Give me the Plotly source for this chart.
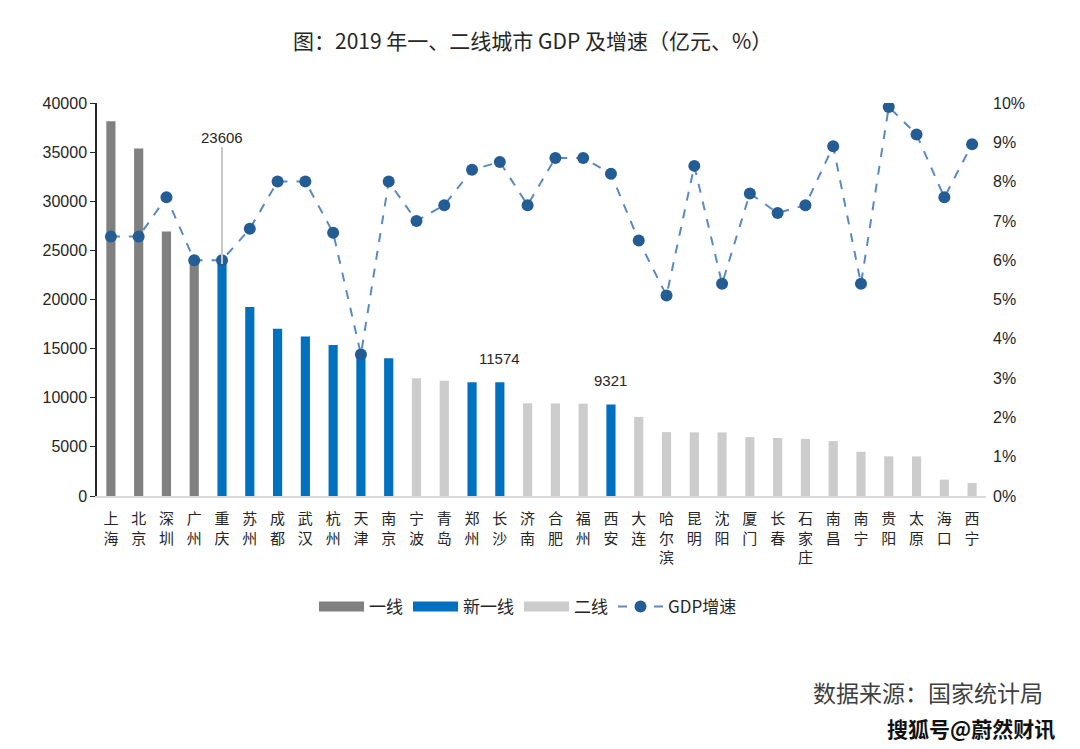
import plotly.graph_objects as go

cities = ["上海", "北京", "深圳", "广州", "重庆", "苏州", "成都", "武汉", "杭州", "天津",
          "南京", "宁波", "青岛", "郑州", "长沙", "济南", "合肥", "福州", "西安", "大连",
          "哈尔滨", "昆明", "沈阳", "厦门", "长春", "石家庄", "南昌", "南宁", "贵阳", "太原",
          "海口", "西宁"]
tiers = ["一线", "一线", "一线", "一线", "新一线", "新一线", "新一线", "新一线", "新一线", "新一线",
         "新一线", "二线", "二线", "新一线", "新一线", "二线", "二线", "二线", "新一线", "二线",
         "二线", "二线", "二线", "二线", "二线", "二线", "二线", "二线", "二线", "二线",
         "二线", "二线"]
gdp = [38155, 35371, 26927, 23628, 23606, 19236, 17013, 16223, 15373, 14104,
       14030, 11985, 11741, 11590, 11574, 9443, 9409, 9392, 9321, 8050,
       6500, 6476, 6470, 5995, 5904, 5810, 5596, 4507, 4039, 4029,
       1671, 1328]
growth = [6.6, 6.6, 7.6, 6.0, 6.0, 6.8, 8.0, 8.0, 6.7, 3.6,
          8.0, 7.0, 7.4, 8.3, 8.5, 7.4, 8.6, 8.6, 8.2, 6.5,
          5.1, 8.4, 5.4, 7.7, 7.2, 7.4, 8.9, 5.4, 9.9, 9.2,
          7.6, 8.95]
tier_names = ["一线", "新一线", "二线"]
tier_colors = {"一线": "#808080", "新一线": "#0070C0", "二线": "#CCCCCC"}
labelled = {"重庆": "23606", "长沙": "11574", "西安": "9321"}
left_ticks = list(range(0, 40001, 5000))
right_ticks = list(range(0, 11))
right_ticktext = [f"{v}%" for v in right_ticks]

xlabels = ["<br>".join(list(c)) for c in cities]

FONT = "Noto Sans CJK SC, Liberation Sans, sans-serif"
NUMFONT = "Liberation Sans, sans-serif"

# plot area in page pixels (page has an 8px body offset)
PL, PR, PT, PB = 97, 986, 103, 496
OFF = 8
W, H = 1080, 749


def px_x(x):
    return (x - PL) / (PR - PL)


def px_y(y):
    return (PB - y) / (PB - PT)


fig = go.Figure()
for t in tier_names:
    xs = [xlabels[i] for i in range(len(cities)) if tiers[i] == t]
    ys = [gdp[i] for i in range(len(cities)) if tiers[i] == t]
    fig.add_trace(go.Bar(x=xs, y=ys, name=t, marker=dict(color=tier_colors[t], line=dict(width=0)),
                         width=0.33, yaxis="y", showlegend=False))

# legend swatches (wide rectangles like the reference)
for t in tier_names:
    fig.add_trace(go.Scatter(x=[None], y=[None], name=t, mode="lines",
                             line=dict(color=tier_colors[t], width=13), yaxis="y"))

fig.add_trace(go.Scatter(x=xlabels, y=growth, name="GDP增速", yaxis="y2", mode="lines+markers",
                         line=dict(color="#5B8AC0", width=2, dash="dash"),
                         marker=dict(color="#245C94", size=12)))

for c, txt in labelled.items():
    i = cities.index(c)
    if c == "重庆":
        fig.add_annotation(x=xlabels[i], y=gdp[i], xref="x", yref="y", text=txt,
                           showarrow=True, arrowhead=0, arrowwidth=2, arrowcolor="#C8C8C8",
                           ax=0, ay=-127, font=dict(family=NUMFONT, size=15, color="#262626"))
    else:
        fig.add_annotation(x=xlabels[i], y=gdp[i], xref="x", yref="y", text=txt,
                           showarrow=False, yshift=24, font=dict(family=NUMFONT, size=15, color="#262626"))

fig.add_annotation(text="图：2019 年一、二线城市 GDP 及增速（亿元、%）", x=px_x(532), y=px_y(40),
                   xref="paper", yref="paper", showarrow=False, xanchor="center", yanchor="middle",
                   font=dict(family=FONT, size=21, color="#262626"))

fig.add_annotation(text="数据来源：国家统计局", x=px_x(1045), y=px_y(692),
                   xref="paper", yref="paper", showarrow=False, xanchor="right", yanchor="middle",
                   font=dict(family=FONT, size=23, color="#404040"))
fig.add_annotation(text="<b>搜狐号@蔚然财讯</b>", x=px_x(1057), y=px_y(728),
                   xref="paper", yref="paper", showarrow=False, xanchor="right", yanchor="middle",
                   font=dict(family=FONT, size=21, color="#111111"))

fig.update_layout(
    width=W, height=H,
    margin=dict(l=PL - OFF, r=W - (PR - OFF), t=PT - OFF, b=H - (PB - OFF)),
    paper_bgcolor="white", plot_bgcolor="white",
    barmode="overlay",
    font=dict(family=FONT, size=13, color="#262626"),
    showlegend=True,
    legend=dict(orientation="h", x=px_x(528), y=px_y(607),
                xanchor="center", yanchor="middle", font=dict(family=FONT, size=17, color="#262626"),
                itemwidth=45, traceorder="normal"),
    xaxis=dict(type="category", categoryorder="array", categoryarray=xlabels, tickangle=0,
               showline=True, linecolor="#D9D9D9", linewidth=2, ticks="", showgrid=False,
               ticklabelstandoff=8,
               tickfont=dict(family=FONT, size=15, color="#262626"), range=[-0.5, len(cities) - 0.5]),
    yaxis=dict(range=[0, 40000], tickvals=left_ticks, ticktext=[str(v) for v in left_ticks],
               showline=True, linecolor="#262626", linewidth=1.5, ticks="outside", ticklen=5,
               tickcolor="#262626", showgrid=False, zeroline=False,
               tickfont=dict(family=NUMFONT, size=16, color="#262626")),
    yaxis2=dict(range=[0, 10], tickvals=right_ticks, ticktext=right_ticktext, overlaying="y",
                side="right", showline=False, showgrid=False, zeroline=False,
                ticklabelstandoff=6,
                tickfont=dict(family=NUMFONT, size=16, color="#262626")),
)

fig.write_html("out.html")
